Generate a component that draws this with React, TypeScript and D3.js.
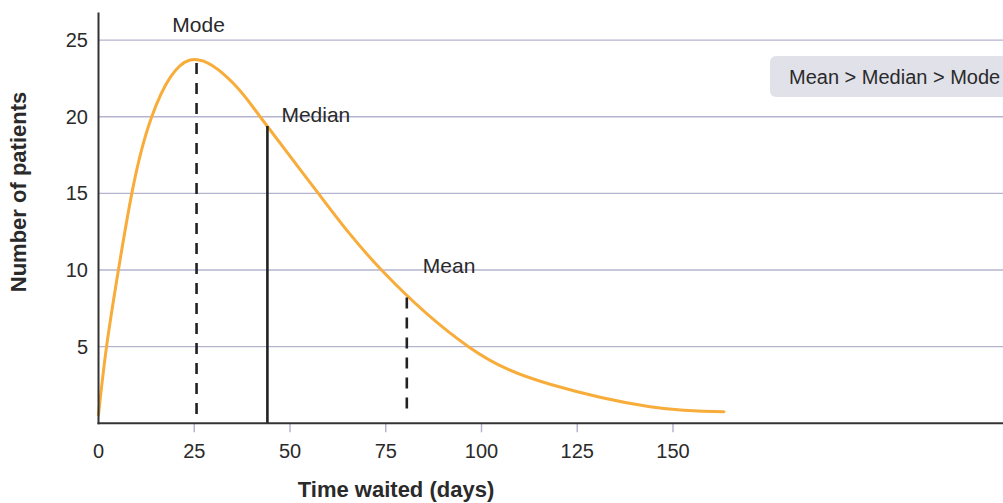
import React from "react";
import * as d3 from "d3";

const days = [0, 2.1, 5.2, 8.7, 13.9, 23.9, 35.5, 42.2, 57.4, 73.9, 96.6, 117.9, 144, 163.3];
const patients = [0.55, 5, 10, 15, 20, 23.7, 22.1, 20, 15, 10, 5, 2.55, 1.08, 0.76];

const markerNames = ["Mode", "Median", "Mean"];
const markerDays = [25.6, 44.1, 80.5];
const markerValues = [23.5, 19.4, 8.2];

const xTicks = [0, 25, 50, 75, 100, 125, 150];
const yTicks = [5, 10, 15, 20, 25];

const xAxisTitle = "Time waited (days)";
const yAxisTitle = "Number of patients";
const noteText = "Mean > Median > Mode";

const W = 1003;
const H = 503;
const FONT = "'Liberation Sans', Arial, Helvetica, sans-serif";
const TEXT = "#2a2a2a";
const GRID = "#b4b4d0";
const ORANGE = "#f8ac3a";

export default function App() {
  const x = d3.scaleLinear().domain([0, 240]).range([98.5, 98.5 + 240 * 3.83]);
  const y = d3.scaleLinear().domain([0, 26.8]).range([423.3, 12.5]);

  const pts: [number, number][] = days.map((d, i) => [d, patients[i]]);
  const line = d3
    .line<[number, number]>()
    .x((d) => x(d[0]))
    .y((d) => y(d[1]))
    .curve(d3.curveNatural);

  const labelOffsets = [2, 14, 16];
  const labelYs = [32, 121.7, 272.7];

  return (
    <svg
      width={W}
      height={H}
      style={{ position: "absolute", left: 0, top: 0, background: "#fff" }}
      fontFamily={FONT}
    >
      {/* gridlines */}
      {yTicks.map((t) => (
        <line key={"g" + t} x1={x(0)} x2={W} y1={y(t)} y2={y(t)} stroke={GRID} strokeWidth={1.4} />
      ))}
      {/* note box */}
      <rect x={770} y={56} width={260} height={41} rx={6} fill="#e1e1ea" />
      <text x={789} y={84} fontSize={20} fill={TEXT}>
        {noteText}
      </text>
      {/* x tick marks */}
      {xTicks
        .filter((t) => t > 0)
        .map((t) => (
          <line key={"xt" + t} x1={x(t)} x2={x(t)} y1={y(0)} y2={y(0) + 9} stroke={GRID} strokeWidth={1.5} />
        ))}
      {/* curve */}
      <path d={line(pts) || ""} fill="none" stroke={ORANGE} strokeWidth={3} strokeLinecap="round" />
      {/* markers */}
      {markerNames.map((n, i) => (
        <g key={n}>
          <line
            x1={x(markerDays[i])}
            x2={x(markerDays[i])}
            y1={y(markerValues[i])}
            y2={n === "Median" ? y(0) : y(0.5)}
            stroke="#222"
            strokeWidth={2.6}
            strokeDasharray={n === "Median" ? undefined : "11 9"}
          />
          <text
            x={x(markerDays[i]) + labelOffsets[i]}
            y={labelYs[i]}
            fontSize={21}
            fill={TEXT}
            textAnchor={n === "Mode" ? "middle" : "start"}
          >
            {n}
          </text>
        </g>
      ))}
      {/* axes */}
      <line x1={x(0)} x2={x(0)} y1={y(26.8)} y2={y(0) + 1} stroke="#333" strokeWidth={2} />
      <line x1={x(0) - 1} x2={W} y1={y(0)} y2={y(0)} stroke="#333" strokeWidth={2} />
      {/* tick labels */}
      {xTicks.map((t) => (
        <text key={"xl" + t} x={x(t)} y={458} fontSize={20} fill={TEXT} textAnchor="middle">
          {t}
        </text>
      ))}
      {yTicks.map((t) => (
        <text key={"yl" + t} x={88} y={y(t) + 7} fontSize={20} fill={TEXT} textAnchor="end">
          {t}
        </text>
      ))}
      {/* axis titles */}
      <text x={396} y={497} fontSize={22} fontWeight="bold" fill={TEXT} textAnchor="middle">
        {xAxisTitle}
      </text>
      <text
        transform={`translate(26,192) rotate(-90)`}
        fontSize={22}
        fontWeight="bold"
        fill={TEXT}
        textAnchor="middle"
      >
        {yAxisTitle}
      </text>
    </svg>
  );
}
